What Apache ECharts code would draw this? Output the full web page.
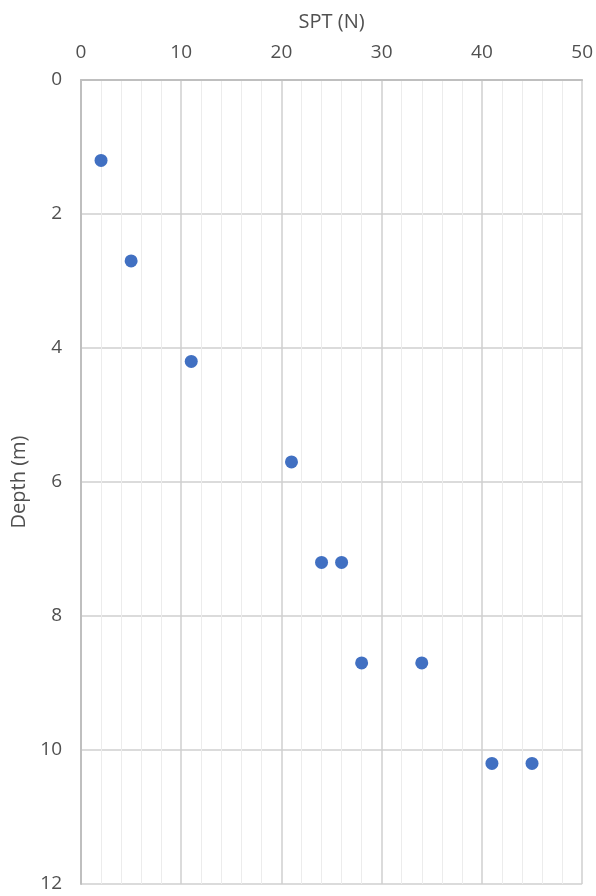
<!DOCTYPE html>
<html>
<head>
<meta charset="utf-8">
<script src="https://cdn.jsdelivr.net/npm/echarts@6/dist/echarts.min.js"></script>
<style>html,body{margin:0;padding:0;background:#fff}#c{width:596px;height:896px}</style>
</head>
<body>
<div id="c"></div>
<script>
const sptN = [2, 5, 11, 21, 24, 26, 28, 34, 41, 45];
const depthM = [1.2, 2.7, 4.2, 5.7, 7.2, 7.2, 8.7, 8.7, 10.2, 10.2];
const xTicks = [0, 10, 20, 30, 40, 50];
const yTicks = [0, 2, 4, 6, 8, 10, 12];

const chart = echarts.init(document.getElementById('c'), null, {renderer: 'canvas'});
const lbl = {color: '#505050', fontFamily: 'Open Sans, sans-serif', fontSize: 19};
const nm = {color: '#505050', fontFamily: 'Open Sans, sans-serif', fontSize: 20};
chart.setOption({
  animation: false,
  grid: {left: 81, right: 13, top: 80, bottom: 12, containLabel: false},
  xAxis: {
    type: 'value', position: 'top', min: xTicks[0], max: xTicks[xTicks.length-1], interval: 10,
    name: 'SPT (N)', nameLocation: 'middle', nameGap: 48, nameTextStyle: nm,
    axisLine: {show: true, lineStyle: {color: '#bfbfbf', width: 2}},
    axisTick: {show: false},
    axisLabel: Object.assign({margin: 18}, lbl),
    splitLine: {show: true, lineStyle: {color: '#cfcfcf', width: 1.5}},
    minorTick: {show: false, splitNumber: 5},
    minorSplitLine: {show: true, lineStyle: {color: '#ececec', width: 1}}
  },
  yAxis: {
    type: 'value', inverse: true, min: yTicks[0], max: yTicks[yTicks.length-1], interval: 2,
    name: 'Depth (m)', nameLocation: 'middle', nameGap: 50, nameRotate: 90, nameTextStyle: nm,
    axisLine: {show: true, lineStyle: {color: '#bfbfbf', width: 2}},
    axisTick: {show: false},
    axisLabel: Object.assign({margin: 19}, lbl),
    splitLine: {show: true, lineStyle: {color: '#cfcfcf', width: 1.5}}
  },
  series: [{
    type: 'scatter',
    data: sptN.map((v, i) => [v, depthM[i]]),
    symbol: 'circle', symbolSize: 13,
    itemStyle: {color: '#4170c2', opacity: 1}
  }]
});
</script>
</body>
</html>
